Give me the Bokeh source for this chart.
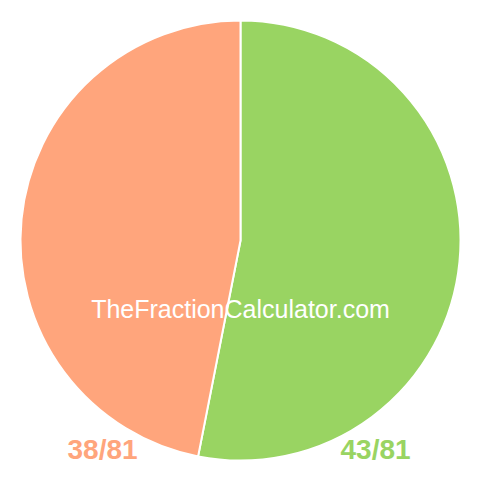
import numpy as np
from bokeh.plotting import figure
from bokeh.models import ColumnDataSource
from bokeh.core.properties import value
from bokeh.embed import file_html
from bokeh.resources import INLINE

# slices, clockwise from the top
labels = ["43/81", "38/81"]
counts = [43, 38]
colors = ["#99d462", "#ffa57c"]
label_x = [0.614, -0.627]
label_y = [-0.948, -0.948]

total = sum(counts)
fracs = np.array(counts) / total
ends = np.pi / 2 - np.cumsum(fracs) * 2 * np.pi
starts = np.concatenate([[np.pi / 2], ends[:-1]])

src = ColumnDataSource(dict(start=starts, end=ends, color=colors,
                            label=labels, lx=label_x, ly=label_y))

lim = 240 / 220
p = figure(width=480, height=480, x_range=(-lim, lim), y_range=(-lim, lim),
           output_backend="svg", toolbar_location=None, min_border=0)
p.axis.visible = False
p.grid.visible = False
p.outline_line_color = None
p.background_fill_color = "white"
p.border_fill_color = "white"

p.wedge(x=0, y=0, radius=1.0, start_angle="start", end_angle="end",
        direction="clock", fill_color="color", line_color="white",
        line_width=2, source=src)

p.text(x=[0], y=[-0.312], text=["TheFractionCalculator.com"],
       text_color="white", text_font=value("Liberation Sans"),
       text_font_size="25px", text_align="center",
       text_baseline="alphabetic")

p.text(x="lx", y="ly", text="label", text_color="color",
       text_font=value("Liberation Sans"), text_font_style="bold",
       text_font_size="28px", text_align="center",
       text_baseline="alphabetic", source=src)

open("out.html", "w").write(file_html(p, INLINE))
